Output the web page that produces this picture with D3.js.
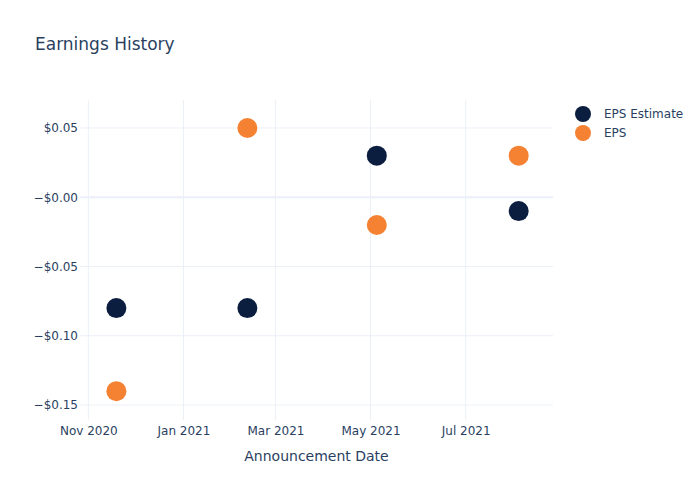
<!DOCTYPE html>
<html><head><meta charset="utf-8">
<script src="https://cdn.jsdelivr.net/npm/d3@7"></script>
<style>body{margin:0;background:#fff}svg{display:block;font-family:"DejaVu Sans",sans-serif}</style>
</head><body><svg id="c" width="700" height="500"></svg>
<script>
const dates = ["2020-11-19","2021-02-11","2021-05-05","2021-08-04"];
const epsEstimate = [-0.08,-0.08,0.03,-0.01];
const eps = [-0.14,0.05,-0.02,0.03];
const yTicks = [0.05,0,-0.05,-0.10,-0.15];
const xTickDates = ["2020-11-01","2021-01-01","2021-03-01","2021-05-01","2021-07-01"];
const seriesNames = ["EPS Estimate","EPS"];
const colors = ["#0c1e3f","#f58233"];

const parse = d3.utcParse("%Y-%m-%d");
const svg = d3.select("#c");
const L=80,R=553,T=100,B=420;
const x = d3.scaleUtc().domain([new Date(Date.UTC(2020,9,26,16)), new Date(Date.UTC(2021,7,26,0))]).range([L,R]);
const y = d3.scaleLinear().domain([-0.1608,0.0702]).range([B,T]);
const grid="#ebf0f8", txt="#2a3f5f";

// vertical grid
svg.append("g").selectAll("line").data(xTickDates).join("line")
  .attr("x1",d=>x(parse(d))).attr("x2",d=>x(parse(d))).attr("y1",T).attr("y2",B)
  .attr("stroke",grid).attr("stroke-width",1);
// horizontal grid
svg.append("g").selectAll("line").data(yTicks).join("line")
  .attr("x1",L).attr("x2",R).attr("y1",d=>y(d)).attr("y2",d=>y(d))
  .attr("stroke",grid).attr("stroke-width",d=>d===0?2:1);

// axes via d3
const fmtY = d=> (d<=0?"\u2212":"") + "$" + Math.abs(d).toFixed(2);
const yAxis = d3.axisLeft(y).tickValues(yTicks).tickFormat(fmtY).tickSize(0).tickPadding(2);
const gy = svg.append("g").attr("transform",`translate(${L},0)`).call(yAxis);
gy.select(".domain").remove();
gy.selectAll("text").attr("fill",txt).attr("font-size",12).attr("font-family","DejaVu Sans");

const xAxis = d3.axisBottom(x).tickValues(xTickDates.map(parse)).tickFormat(d3.utcFormat("%b %Y")).tickSize(0).tickPadding(6);
const gx = svg.append("g").attr("transform",`translate(0,${B})`).call(xAxis);
gx.select(".domain").remove();
gx.selectAll("text").attr("fill",txt).attr("font-size",12).attr("font-family","DejaVu Sans");

// points
const series=[epsEstimate,eps];
series.forEach((vals,i)=>{
  svg.append("g").selectAll("circle").data(vals).join("circle")
    .attr("cx",(d,j)=>x(parse(dates[j]))).attr("cy",d=>y(d)).attr("r",10)
    .attr("fill",colors[i]);
});

// title
svg.append("text").attr("x",35).attr("y",50).attr("fill",txt).attr("font-size",17).text("Earnings History");
svg.append("text").attr("x",(L+R)/2).attr("y",461).attr("text-anchor","middle").attr("fill",txt).attr("font-size",14).text("Announcement Date");

// legend
const lg = svg.append("g");
seriesNames.forEach((n,i)=>{
  lg.append("circle").attr("cx",583).attr("cy",114+i*19).attr("r",8).attr("fill",colors[i]);
  lg.append("text").attr("x",604).attr("y",118+i*19).attr("fill",txt).attr("font-size",12).text(n);
});
</script></body></html>
